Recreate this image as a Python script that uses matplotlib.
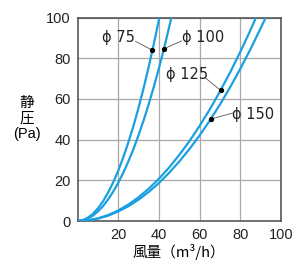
import matplotlib
matplotlib.use("Agg")
import matplotlib.pyplot as plt

plt.rcParams['font.family'] = ['Liberation Sans', 'Noto Sans CJK JP', 'DejaVu Sans']

# air flow (m3/h) vs static pressure (Pa)
q_75 = [0, 2.5, 5, 7.5, 10, 12.5, 15, 17.5, 20, 22.5, 25, 27.5, 30, 32.5, 35, 37.5, 40.2]
p_75 = [0, 0.4, 1.6, 3.5, 6.2, 9.7, 14.0, 19.0, 24.8, 31.4, 38.8, 46.9, 55.8, 65.5, 76.0, 87.2, 100]
q_100 = [0, 2.5, 5, 7.5, 10, 12.5, 15, 17.5, 20, 22.5, 25, 27.5, 30, 32.5, 35, 37.5, 40, 43, 46.1]
p_100 = [0, 0.3, 1.2, 2.6, 4.7, 7.3, 10.6, 14.4, 18.8, 23.8, 29.4, 35.5, 42.3, 49.6, 57.6, 66.1,
         75.2, 86.9, 100]
q_125 = [0, 5, 10, 15, 20, 25, 30, 35, 40, 45, 50, 55, 60, 65, 70, 75, 80, 84, 87.7]
p_125 = [0, 0.3, 1.3, 2.9, 5.2, 8.1, 11.7, 15.9, 20.8, 26.3, 32.5, 39.3, 46.8, 54.9, 63.7, 73.1,
         83.2, 91.7, 100]
q_150 = [0, 5, 10, 15, 20, 25, 30, 35, 40, 45, 50, 55, 60, 65, 70, 75, 80, 85, 92.5]
p_150 = [0, 0.3, 1.2, 2.6, 4.7, 7.3, 10.5, 14.3, 18.7, 23.7, 29.3, 35.4, 42.1, 49.4, 57.3, 65.8,
         74.9, 84.5, 100]

labels = ['ϕ 75', 'ϕ 100', 'ϕ 125', 'ϕ 150']
dots = [(36.7, 84), (42.3, 84.6), (70.3, 64.2), (65.4, 50.1)]
text_pos = [(19.9, 90.4), (61.6, 90.4), (54.0, 72.2), (86.4, 52.6)]
leader_start = [(28.5, 88.3), (51.0, 88.5), (63.0, 70.2), (76.4, 53.1)]

xticks = [20, 40, 60, 80, 100]
yticks = [0, 20, 40, 60, 80, 100]

fig = plt.figure(figsize=(3.05, 2.74), dpi=100)
ax = fig.add_axes([0.2544, 0.1934, 0.667, 0.7424])

blue = '#1aa0e0'
for q, p in [(q_75, p_75), (q_100, p_100), (q_125, p_125), (q_150, p_150)]:
    ax.plot(q, p, color=blue, lw=1.6, solid_capstyle='butt', zorder=3)

for lab, d, t, s in zip(labels, dots, text_pos, leader_start):
    ax.plot([s[0], d[0]], [s[1], d[1]], color='#555555', lw=0.6, zorder=4)
    ax.plot(d[0], d[1], 'o', color='black', ms=2.8, zorder=5)
    ax.text(t[0], t[1], lab, ha='center', va='center', fontsize=10.5, color='#222222',
            family=['DejaVu Sans'])

ax.set_xlim(0, 100)
ax.set_ylim(0, 100)
ax.set_xticks(xticks)
ax.set_yticks(yticks)
ax.tick_params(length=0, labelsize=10.5, colors='#222222')
ax.tick_params(axis='x', pad=5)
ax.tick_params(axis='y', pad=5)
ax.grid(True, color='#a8a8a8', lw=0.9)
ax.set_axisbelow(True)
for sp in ax.spines.values():
    sp.set_color('#4a4a4a')
    sp.set_linewidth(1.1)

fig.text(27 / 305, 1 - 103 / 274, '静', ha='center', va='center', fontsize=10.5,
         family=['Noto Sans CJK JP'])
fig.text(27 / 305, 1 - 119 / 274, '圧', ha='center', va='center', fontsize=10.5,
         family=['Noto Sans CJK JP'])
fig.text(27 / 305, 1 - 134 / 274, '(Pa)', ha='center', va='center', fontsize=10.5)
fig.text(179 / 305, 1 - 252 / 274, '風量（m³/h）', ha='center', va='center', fontsize=10.5,
         family=['Noto Sans CJK JP', 'DejaVu Sans'])

fig.savefig('out.png', dpi=100)
